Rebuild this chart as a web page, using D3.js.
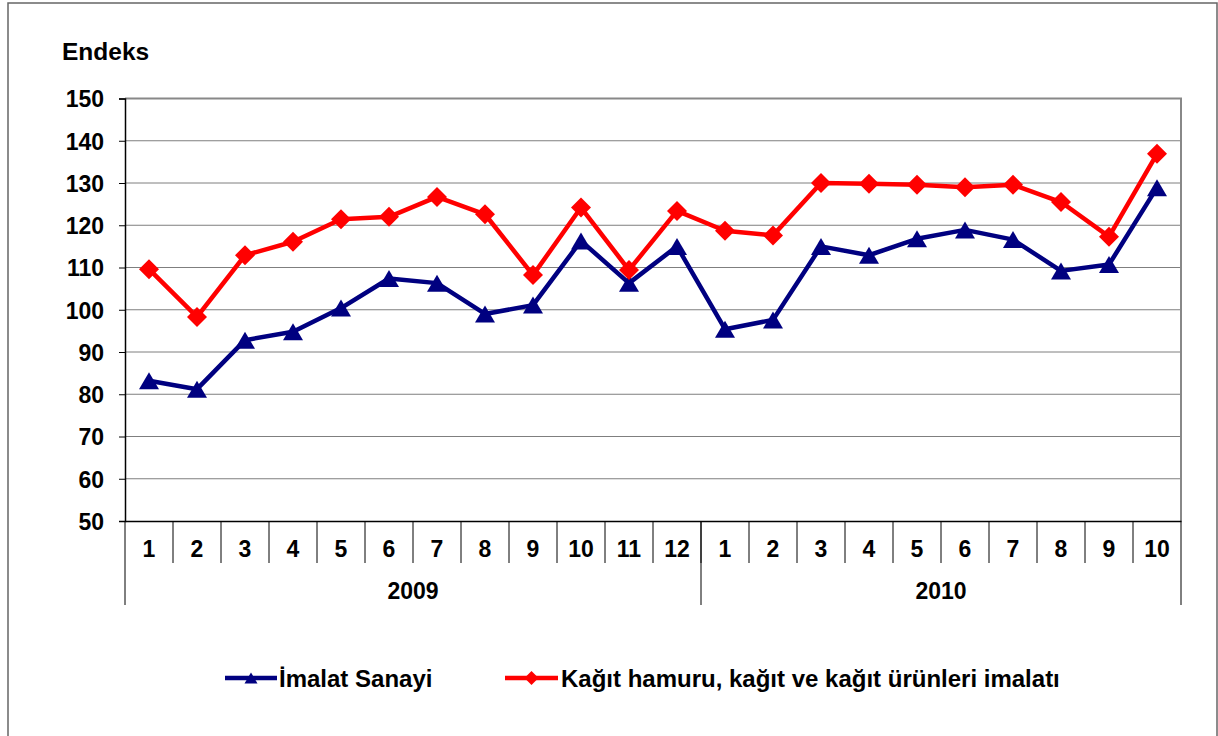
<!DOCTYPE html>
<html><head><meta charset="utf-8">
<script src="https://cdn.jsdelivr.net/npm/d3@7"></script>
<style>html,body{margin:0;padding:0;background:#fff;}svg{display:block;}</style>
</head><body>
<svg id="c" width="1218" height="736"></svg>
<script>
const years = ["2009", "2010"];
const months2009 = ["1","2","3","4","5","6","7","8","9","10","11","12"];
const months2010 = ["1","2","3","4","5","6","7","8","9","10"];
const yTicks = [50,60,70,80,90,100,110,120,130,140,150];
const imalatSanayi = [83.2,81.2,92.8,94.8,100.4,107.4,106.3,99.0,101.1,116.3,106.3,115.0,
                      95.4,97.6,115.0,112.9,116.8,118.9,116.6,109.2,110.7,128.9];
const kagitImalati = [109.6,98.3,112.9,116.1,121.4,122.0,126.7,122.6,108.2,124.2,109.4,123.4,
                      118.7,117.6,130.0,129.8,129.6,129.0,129.6,125.5,117.3,136.9];
const seriesNames = ["İmalat Sanayi", "Kağıt hamuru, kağıt ve kağıt ürünleri imalatı"];

const keys = [...months2009.map(m => "2009-" + m), ...months2010.map(m => "2010-" + m)];
const monthLabels = [...months2009, ...months2010];
const yearOf = k => k.split("-")[0];

const svg = d3.select("#c");
const FONT = "'Liberation Sans', Arial, Helvetica, sans-serif";
const L = 125, R = 1181, T = 98.5, B = 521;

const x = d3.scaleBand().domain(keys).range([L, R]);
const y = d3.scaleLinear().domain([50, 150]).range([B, T]);
const cx = k => x(k) + x.bandwidth() / 2;

// outer frame
svg.append("rect").attr("x", 8).attr("y", 3).attr("width", 1209).attr("height", 760)
  .attr("fill", "none").attr("stroke", "#666").attr("stroke-width", 1.5);

// gridlines
svg.append("g").selectAll("line").data(yTicks.filter(t => t > 50 && t < 150)).join("line")
  .attr("x1", L).attr("x2", R).attr("y1", d => y(d)).attr("y2", d => y(d))
  .attr("stroke", "#7f7f7f").attr("stroke-width", 1);

// top and right border of plot
svg.append("line").attr("x1", L).attr("x2", R + 1).attr("y1", y(150)).attr("y2", y(150))
  .attr("stroke", "#888").attr("stroke-width", 2);
svg.append("line").attr("x1", R).attr("x2", R).attr("y1", y(150)).attr("y2", B)
  .attr("stroke", "#888").attr("stroke-width", 2);

// y axis
const yAxis = d3.axisLeft(y).tickValues(yTicks).tickSize(6).tickPadding(15);
const gy = svg.append("g").attr("transform", `translate(${L},0)`).call(yAxis);
gy.select(".domain").attr("stroke", "#000").attr("stroke-width", 1.5);
gy.selectAll(".tick line").attr("stroke", "#000");
gy.selectAll(".tick text").attr("font-family", FONT).attr("font-size", 23)
  .attr("font-weight", "bold").attr("fill", "#000").attr("dy", "0.36em");

// x axis (months)
const xAxis = d3.axisBottom(x).tickSize(0).tickFormat((d, i) => monthLabels[i]);
const gx = svg.append("g").attr("transform", `translate(0,${B})`).call(xAxis);
gx.select(".domain").attr("stroke", "#000").attr("stroke-width", 1.5);
gx.selectAll(".tick text").attr("font-family", FONT).attr("font-size", 23)
  .attr("font-weight", "bold").attr("fill", "#000").attr("y", 36).attr("dy", 0);

// month separators
svg.append("g").selectAll("line").data(keys.slice(1)).join("line")
  .attr("x1", d => x(d)).attr("x2", d => x(d)).attr("y1", B).attr("y2", B + 42)
  .attr("stroke", "#000").attr("stroke-width", 1);

// year separators and labels
const yearStart = yr => x(keys.find(k => yearOf(k) === yr));
const yearEnd = yr => { const ks = keys.filter(k => yearOf(k) === yr); return x(ks[ks.length - 1]) + x.bandwidth(); };
const yearBounds = [L, ...years.slice(1).map(yearStart), R];
svg.append("g").selectAll("line").data(yearBounds).join("line")
  .attr("x1", d => d).attr("x2", d => d).attr("y1", B).attr("y2", B + 84)
  .attr("stroke", "#000").attr("stroke-width", 1);
svg.append("g").selectAll("text").data(years).join("text")
  .attr("x", d => (yearStart(d) + yearEnd(d)) / 2).attr("y", B + 78)
  .attr("text-anchor", "middle").attr("font-family", FONT).attr("font-size", 23)
  .attr("font-weight", "bold").text(d => d);

// title
svg.append("text").attr("x", 62).attr("y", 60).attr("font-family", FONT)
  .attr("font-size", 24.5).attr("font-weight", "bold").text("Endeks");

// lines
const line = d3.line().x((d, i) => cx(keys[i])).y(d => y(d));
const colors = ["#000080", "#ff0000"];
const data = [imalatSanayi, kagitImalati];
data.forEach((vals, si) => {
  svg.append("path").datum(vals).attr("d", line).attr("fill", "none")
    .attr("stroke", colors[si]).attr("stroke-width", 4.5).attr("stroke-linejoin", "round");
});

const tri = s => `M${-s},${s*0.85}L${s},${s*0.85}L0,${-s*0.85}Z`;
const dia = s => `M0,${-s}L${s},0L0,${s}L${-s},0Z`;

svg.append("g").selectAll("path").data(imalatSanayi).join("path")
  .attr("transform", (d, i) => `translate(${cx(keys[i])},${y(d)})`)
  .attr("d", tri(10)).attr("fill", colors[0]);
svg.append("g").selectAll("path").data(kagitImalati).join("path")
  .attr("transform", (d, i) => `translate(${cx(keys[i])},${y(d)})`)
  .attr("d", dia(10)).attr("fill", colors[1]);

// legend
const legY = 678;
const leg = [
  {x0: 225, x1: 277, tx: 279, mk: tri(6.5)},
  {x0: 505, x1: 558, tx: 561, mk: dia(7)}
];
leg.forEach((l, i) => {
  svg.append("line").attr("x1", l.x0).attr("x2", l.x1).attr("y1", legY).attr("y2", legY)
    .attr("stroke", colors[i]).attr("stroke-width", 4.5);
  svg.append("path").attr("transform", `translate(${(l.x0 + l.x1) / 2},${legY})`)
    .attr("d", l.mk).attr("fill", colors[i]);
  svg.append("text").attr("x", l.tx).attr("y", legY + 8.5).attr("font-family", FONT)
    .attr("font-size", 24).attr("font-weight", "bold").text(seriesNames[i]);
});
</script>
</body></html>
